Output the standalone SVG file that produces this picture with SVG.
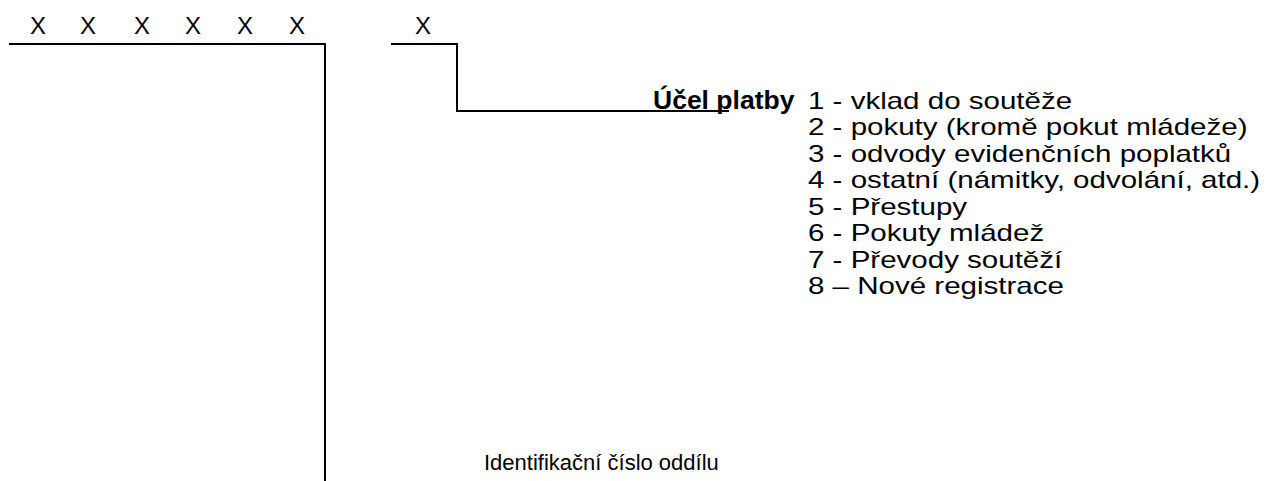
<svg xmlns="http://www.w3.org/2000/svg" width="1266" height="481" viewBox="0 0 1266 481">
<style>
.t{font-family:"Liberation Sans",Arial,sans-serif;fill:#000}
.x{font-size:24px}
.b{font-weight:bold;font-size:26.5px}
.l{font-size:24px}
.o{font-size:22px}
.ln{stroke:#000;stroke-width:2;fill:none}
</style>
<rect width="1266" height="481" fill="#fff"/>
<g id="digits">
<text class="t x" x="38" y="34" text-anchor="middle">X</text>
<text class="t x" x="88" y="34" text-anchor="middle">X</text>
<text class="t x" x="142" y="34" text-anchor="middle">X</text>
<text class="t x" x="193" y="34" text-anchor="middle">X</text>
<text class="t x" x="245" y="34" text-anchor="middle">X</text>
<text class="t x" x="297" y="34" text-anchor="middle">X</text>
<text class="t x" x="423" y="34" text-anchor="middle">X</text>
</g>
<g id="connectors">
<polyline class="ln" points="9,44 325,44 325,481"/>
<polyline class="ln" points="391,44 457,44 457,111 729,111"/>
</g>
<g id="ucel">
<text class="t b" x="653" y="109">Účel platby</text>
<g transform="translate(808,0) scale(1.23,1)">
<text class="t l" x="0" y="109">1 - vklad do soutěže</text>
<text class="t l" x="0" y="135.5">2 - pokuty (kromě pokut mládeže)</text>
<text class="t l" x="0" y="162">3 - odvody evidenčních poplatků</text>
<text class="t l" x="0" y="188.5">4 - ostatní (námitky, odvolání, atd.)</text>
<text class="t l" x="0" y="215">5 - Přestupy</text>
<text class="t l" x="0" y="241.5">6 - Pokuty mládež</text>
<text class="t l" x="0" y="268">7 - Převody soutěží</text>
<text class="t l" x="0" y="294.5">8 – Nové registrace</text>
</g>
</g>
<g id="oddil">
<text class="t o" x="484" y="470">Identifikační číslo oddílu</text>
</g>
</svg>
